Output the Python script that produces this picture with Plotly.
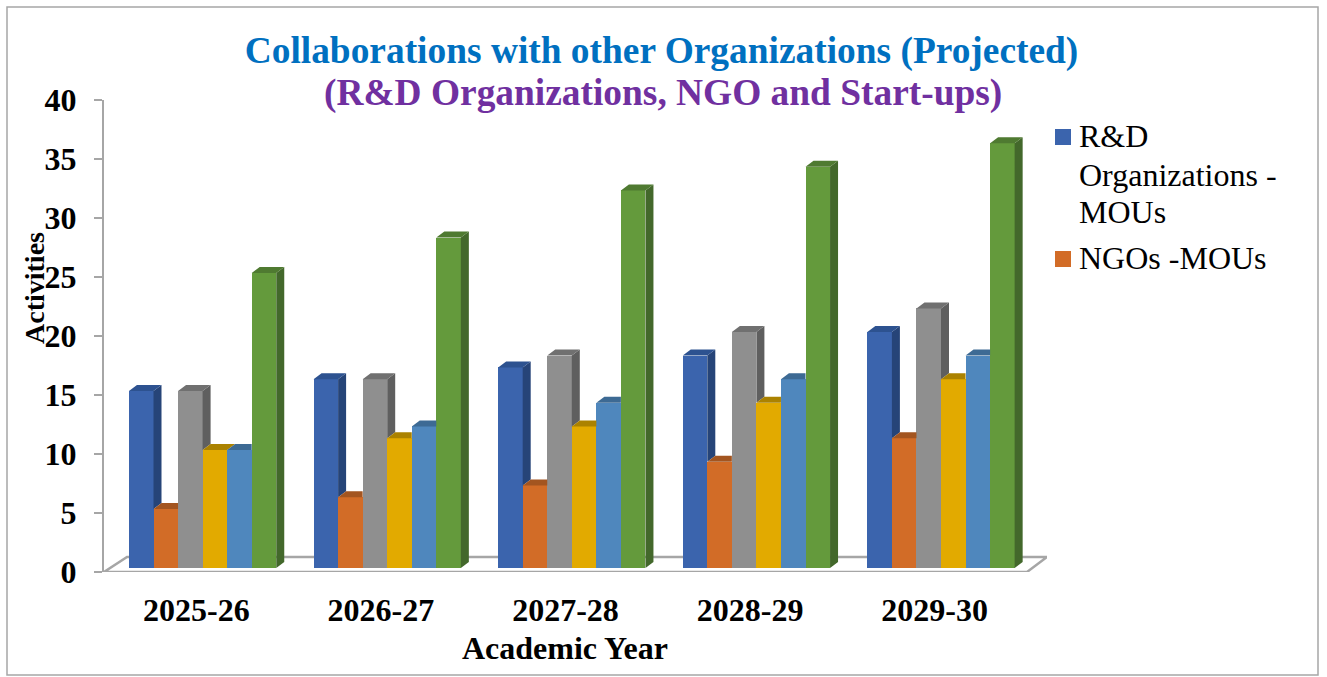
import plotly.graph_objects as go

years = ["2025-26", "2026-27", "2027-28", "2028-29", "2029-30"]
rnd_mous = [15, 16, 17, 18, 20]
ngo_mous = [5, 6, 7, 9, 11]
series_3 = [15, 16, 18, 20, 22]
series_4 = [10, 11, 12, 14, 16]
series_5 = [10, 12, 14, 16, 18]
series_6 = [25, 28, 32, 34, 36]

names = ["R&D Organizations - MOUs", "NGOs -MOUs", "Series 3", "Series 4", "Series 5", "Series 6"]
all_values = [rnd_mous, ngo_mous, series_3, series_4, series_5, series_6]
front = ["#3B64AD", "#D26C27", "#8F8F8F", "#E2AA00", "#4F87BD", "#649A3C"]
side = ["#264478", "#8E4A1B", "#5F5F5F", "#8F6B00", "#335A80", "#43682B"]
top = ["#2D5290", "#A35520", "#707070", "#AB8200", "#3D6A94", "#4F7A31"]

title_line1 = "Collaborations with other Organizations (Projected)"
title_line2 = "(R&D Organizations, NGO and Start-ups)"
x_title = "Academic Year"
y_title = "Activities"
legend_lines = [["R&D", "Organizations -", "MOUs"], ["NGOs -MOUs"]]

W, H = 1327, 677
L, R, T, B = 104, 1047, 100, 572
floor_right = 1027
px_per_cat = (floor_right - L) / len(years)
px_per_unit = (B - T) / 40
bar_w = 24.55 / px_per_cat
shift = 6.3 / px_per_cat
dx = 8 / px_per_cat
dy = 6 / px_per_unit
lift = 4 / px_per_unit
fx = 23 / px_per_cat
fy = 15 / px_per_unit
xmax = len(years) - 0.5 + 20 / px_per_cat


def px(x):
    return (x - L) / (R - L)


def py(y):
    return (B - y) / (B - T)


fig = go.Figure()
n = len(all_values)
for j, vals in enumerate(all_values):
    lefts = [i + shift + (j - n / 2) * bar_w for i in range(len(years))]
    fig.add_trace(go.Bar(
        x=[x + bar_w / 2 for x in lefts], y=vals, width=bar_w, name=names[j],
        marker=dict(color=front[j], line=dict(width=0)),
        yaxis="y2", showlegend=False,
    ))
for j, vals in enumerate(all_values):
    sx, sy, tx, ty = [], [], [], []
    for i, v in enumerate(vals):
        xl = i + shift + (j - n / 2) * bar_w
        xr = xl + bar_w
        nxt = all_values[j + 1][i] if j + 1 < n else 0
        if nxt < v:
            sx += [xr, xr + dx, xr + dx, xr, xr, None]
            sy += [v, v + dy, nxt + dy, nxt, v, None]
            tx += [xl, xr, xr + dx, xl + dx, xl, None]
            ty += [v, v, v + dy, v + dy, v, None]
        elif nxt > v:
            tx += [xl, xr, xr, xl + dx, xl, None]
            ty += [v, v, v + dy, v + dy, v, None]
        else:
            tx += [xl, xr, xr + dx, xl + dx, xl, None]
            ty += [v, v, v + dy, v + dy, v, None]
    for xs, ys, c in ((sx, sy, side[j]), (tx, ty, top[j])):
        if xs:
            fig.add_trace(go.Scatter(
                x=xs, y=ys, mode="lines", fill="toself", fillcolor=c,
                line=dict(width=0, color=c), yaxis="y2", showlegend=False,
                hoverinfo="skip",
            ))

x0 = -0.5
floor_path = (f"M {x0},0 L {x0 + fx},{fy} L {xmax},{fy} "
              f"L {len(years) - 0.5},0 Z")
fig.add_shape(type="path", path=floor_path, xref="x", yref="y",
              line=dict(color="#A6A6A6", width=2.5), fillcolor="white", layer="below")
fig.add_shape(type="rect", xref="paper", yref="paper",
              x0=px(7), x1=px(1318), y0=py(675), y1=py(7),
              line=dict(color="#A6A6A6", width=1.5), fillcolor="rgba(0,0,0,0)", layer="below")

serif = "Liberation Serif"
ann = []


def add_text(text, x, y, size, color="black", bold=False, anchor="center", angle=0):
    t = f"<b>{text}</b>" if bold else text
    ann.append(dict(text=t, x=px(x), y=py(y), xref="paper", yref="paper", xanchor=anchor, yanchor="middle",
                    showarrow=False, textangle=angle, font=dict(family=serif, size=size, color=color)))


add_text(title_line2, 662.5, 93, 37.4, "#7030A0", bold=True)
add_text(x_title, 565, 648, 32, bold=True)
add_text(y_title, 34, 288, 28, bold=True, angle=-90)

# legend text and swatches
line_y = [[136, 175, 212], [258]]
for j, lines in enumerate(legend_lines):
    for s, y in zip(lines, line_y[j]):
        add_text(s, 1076.5, y, 32, anchor="left")
    y0 = line_y[j][0] + 1
    fig.add_shape(type="rect", xref="paper", yref="paper", x0=px(1055), x1=px(1071),
                  y0=py(y0 + 8), y1=py(y0 - 8), fillcolor=front[j], line=dict(width=0))

fig.update_layout(
    width=W, height=H, autosize=False,
    margin=dict(l=L, r=W - R, t=T, b=H - B, pad=0),
    paper_bgcolor="white", plot_bgcolor="rgba(0,0,0,0)",
    barmode="overlay", bargap=0,
    font=dict(family=serif, color="black"),
    showlegend=False,
    annotations=ann,
    title=dict(
        text=f"<b>{title_line1}</b>",
        font=dict(family=serif, size=37.4, color="#0070C0"),
        x=661.5 / W, xanchor="center", y=1 - 50 / H, yanchor="middle",
    ),
    xaxis=dict(
        range=[x0, xmax], tickmode="array", tickvals=list(range(len(years))),
        ticktext=[f"<b>{t}</b>" for t in years],
        showgrid=False, zeroline=False, showline=False, ticks="", ticklabelstandoff=16,
        tickfont=dict(family=serif, size=32, color="black"),
        automargin=False,
    ),
    yaxis=dict(
        range=[0, 40], tickmode="array", tickvals=list(range(0, 41, 5)),
        ticktext=[f"<b>{v}</b>" for v in range(0, 41, 5)],
        showgrid=False, zeroline=False, showline=True, linecolor="#A6A6A6", linewidth=2,
        ticks="outside", ticklen=8, tickcolor="#A6A6A6", tickwidth=1.5,
        tickfont=dict(family=serif, size=32, color="black"), ticklabelstandoff=11,
        automargin=False,
    ),
    yaxis2=dict(range=[-lift, 40 - lift], overlaying="y", visible=False),
)
fig.write_html("out.html", config=dict(displayModeBar=False),
               post_script="document.body.style.margin='0';document.body.style.overflow='hidden';")
